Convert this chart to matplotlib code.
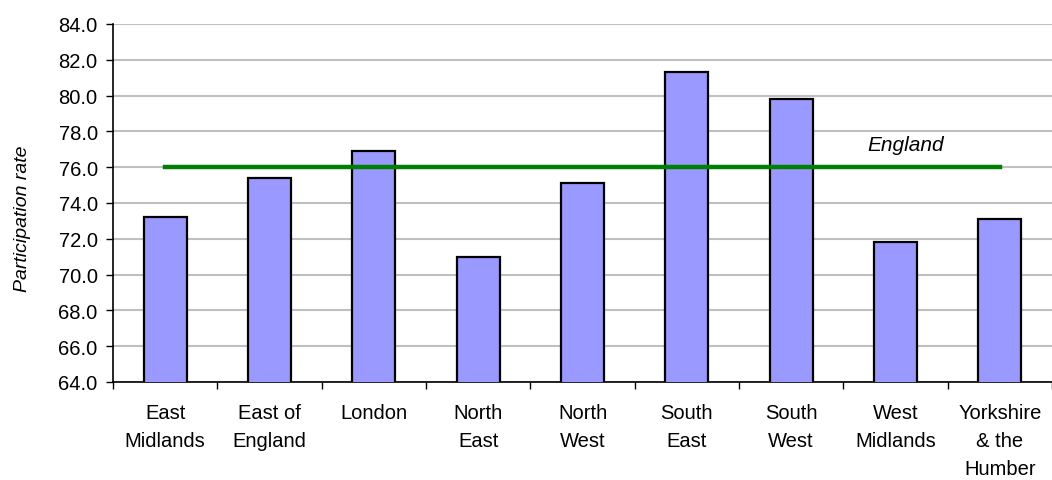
import numpy as np
import matplotlib.pyplot as plt

plt.rcParams['font.family'] = ['Liberation Sans', 'DejaVu Sans']

regions = ['East\nMidlands', 'East of\nEngland', 'London', 'North\nEast', 'North\nWest',
           'South\nEast', 'South\nWest', 'West\nMidlands', 'Yorkshire\n& the\nHumber']
rates = [73.2, 75.4, 76.9, 71.0, 75.1, 81.3, 79.8, 71.8, 73.1]
england = 76.0
yticks = np.arange(64, 84.1, 2)

fig = plt.figure(figsize=(10.52, 4.81), dpi=100)
ax = fig.add_axes([113/1052, 1 - 383/481, 1 - 113/1052, (383 - 25)/481])

x = np.arange(len(regions))
ax.bar(x, rates, width=0.41, color='#9999ff', edgecolor='black', linewidth=1.6, zorder=3)
ax.plot([x[0], x[-1]], [england, england], color='#008000', lw=3.2, zorder=4)
ax.text(7.1, 77.25, 'England', style='italic', fontsize=15, ha='center', va='center')

ax.set_ylim(64, 84)
ax.set_xlim(-0.5, len(regions) - 0.5)
ax.set_yticks(yticks)
ax.set_yticklabels(['%.1f' % v for v in yticks], fontsize=14.5)
ax.yaxis.grid(True, color='#c0c0c0', lw=1.5, zorder=0)
ax.set_axisbelow(True)

ax.set_xticks(x)
ax.set_xticklabels(regions, fontsize=14.5, linespacing=1.6)
ax.tick_params(axis='x', length=0, pad=15)
ax.set_xticks(np.arange(-0.5, len(regions)), minor=True)
ax.tick_params(axis='x', which='minor', length=5, width=1, direction='out')
ax.tick_params(axis='y', length=5, width=1, direction='out', pad=6)

for s in ['top', 'right']:
    ax.spines[s].set_visible(False)
ax.spines['left'].set_linewidth(1.2)
ax.spines['bottom'].set_linewidth(1.2)

ax.set_ylabel('Participation rate', style='italic', fontsize=14)
ax.yaxis.set_label_coords(-0.087, 0.46)

fig.savefig('out.png', dpi=100)
